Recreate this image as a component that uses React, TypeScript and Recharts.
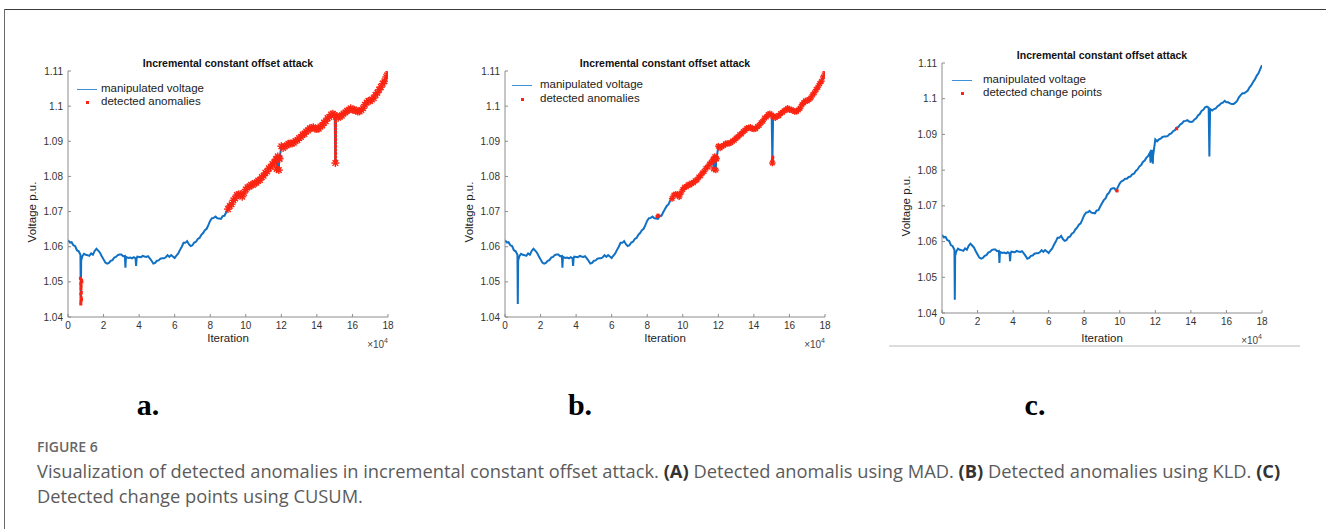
import React from 'react';
import { ComposedChart, Line, Scatter, XAxis, YAxis } from 'recharts';

// Iteration in thousands (axis shows ×10^4), with a few extra samples at the sharp dips
const iterationK = [
  0, 1, 2, 3, 4, 5, 6, 7, 7.2, 7.4, 8, 9,
  10, 11, 12, 13, 14, 15, 16, 17, 18, 19,
  20, 21, 22, 23, 24, 25, 26, 27, 28, 29,
  30, 31, 32, 32.3, 32.6, 33, 34, 35, 36, 37, 38, 38.3, 38.6, 39,
  40, 41, 42, 43, 44, 45, 46, 47, 48, 49,
  50, 51, 52, 53, 54, 55, 56, 57, 58, 59,
  60, 61, 62, 63, 64, 65, 66, 67, 68, 69,
  70, 71, 72, 73, 74, 75, 76, 77, 78, 79,
  80, 81, 82, 83, 84, 85, 86, 87, 88, 89,
  90, 91, 92, 93, 94, 95, 96, 97, 98, 99,
  100, 101, 102, 103, 104, 105, 106, 107, 108, 109,
  110, 111, 112, 113, 114, 115, 116, 117, 117.3, 117.6, 118, 118.6, 118.8, 119,
  120, 121, 122, 123, 124, 125, 126, 127, 128, 129,
  130, 131, 132, 133, 134, 135, 136, 137, 138, 139,
  140, 141, 142, 143, 144, 145, 146, 147, 148, 149,
  150, 150.4, 150.8, 151, 152, 153, 154, 155, 156, 157, 158, 159,
  160, 161, 162, 163, 164, 165, 166, 167, 168, 169,
  170, 171, 172, 173, 174, 175, 176, 177, 178, 179, 180,
];

// Manipulated voltage (p.u.)
const voltage = [
  1.0619, 1.0612, 1.0613, 1.0604, 1.0602, 1.0590, 1.0587, 1.0577, 1.0437, 1.056, 1.0572, 1.0580,
  1.0577, 1.0576, 1.0574, 1.0581, 1.0577, 1.0588, 1.0594, 1.0589, 1.0583, 1.0573,
  1.0564, 1.0555, 1.0552, 1.0554, 1.0560, 1.0562, 1.0569, 1.0571, 1.0576, 1.0578,
  1.0578, 1.0573, 1.0574, 1.054, 1.0571, 1.0570, 1.0568, 1.0569, 1.0567, 1.0570, 1.0567, 1.0545, 1.0567, 1.0572,
  1.0571, 1.0570, 1.0574, 1.0572, 1.0571, 1.0573, 1.0567, 1.0560, 1.0552, 1.0554,
  1.0560, 1.0561, 1.0566, 1.0567, 1.0567, 1.0570, 1.0576, 1.0571, 1.0576, 1.0572,
  1.0568, 1.0575, 1.0581, 1.0591, 1.0600, 1.0611, 1.0611, 1.0616, 1.0607, 1.0602,
  1.0604, 1.0612, 1.0614, 1.0622, 1.0625, 1.0634, 1.0639, 1.0647, 1.0651, 1.0662,
  1.0674, 1.0681, 1.0682, 1.0686, 1.0681, 1.0680, 1.0679, 1.0687, 1.0688, 1.0698,
  1.0707, 1.0716, 1.0721, 1.0732, 1.0737, 1.0747, 1.0749, 1.0749, 1.0742, 1.0753,
  1.0763, 1.0769, 1.0771, 1.0776, 1.0776, 1.0781, 1.0782, 1.0788, 1.0790, 1.0798,
  1.0802, 1.0810, 1.0814, 1.0823, 1.0827, 1.0835, 1.0840, 1.0849, 1.0821, 1.0846, 1.0857, 1.0818, 1.0852, 1.0850,
  1.0886, 1.0881, 1.0886, 1.0888, 1.0893, 1.0894, 1.0894, 1.0896, 1.0901, 1.0903,
  1.0909, 1.0912, 1.0919, 1.0921, 1.0928, 1.0931, 1.0937, 1.0938, 1.0940, 1.0936,
  1.0935, 1.0936, 1.0942, 1.0945, 1.0953, 1.0957, 1.0966, 1.0969, 1.0976, 1.0978,
  1.0975, 1.0838, 1.0970, 1.0971, 1.0967, 1.0971, 1.0973, 1.0979, 1.0982, 1.0987, 1.0989, 1.0994,
  1.0990, 1.0990, 1.0987, 1.0985, 1.0985, 1.0989, 1.0994, 1.1004, 1.1010, 1.1015,
  1.1015, 1.1019, 1.1023, 1.1032, 1.1038, 1.1047, 1.1054, 1.1064, 1.1071, 1.1083, 1.1094,
];

// First iteration (thousands) flagged continuously by each detector
const madStartK = 90;
const kldStartK = 94;

// Extra flagged samples of the MAD detector around the dips
const madExtraX = [7, 7.2, 7.3, 7.2, 7.4, 7.3, 7.2, 7.6, 7.8, 7.5, 7.6, 7.4,
  117.5, 118.5, 118.7,
  150.5, 150.5, 150.5, 150.5, 150.5, 150.5, 150.5, 150.5, 150.5, 150.5, 150.5, 150.5, 150.5, 150.4, 150.6];
const madExtraV = [1.051, 1.0495, 1.048, 1.0465, 1.0455, 1.0445, 1.0437, 1.0505, 1.05, 1.047, 1.045, 1.0488,
  1.0825, 1.0818, 1.0822,
  1.0965, 1.0955, 1.0945, 1.0935, 1.0925, 1.0915, 1.0905, 1.0895, 1.0885, 1.0875, 1.0865, 1.0855, 1.0845, 1.084, 1.0842];

// Extra flagged samples of the KLD detector
const kldExtraX = [85.5, 86, 86.5, 150.4, 150.5, 150.6, 150.4];
const kldExtraV = [1.0686, 1.069, 1.0688, 1.0843, 1.085, 1.0855, 1.0847];

// Change points found by CUSUM
const cusumX = [98.5, 132];
const cusumV = [1.0742, 1.0916];

const xTicks = [0, 20, 40, 60, 80, 100, 120, 140, 160, 180];
const yTicks = [1.04, 1.05, 1.06, 1.07, 1.08, 1.09, 1.1, 1.11];

const chartTitle = 'Incremental constant offset attack';
const lineLegend = 'manipulated voltage';

type Pt = { x: number; v: number };

const series: Pt[] = iterationK.map((x, i) => ({ x, v: voltage[i] }));
const pairs = (xs: number[], vs: number[]): Pt[] => xs.map((x, i) => ({ x, v: vs[i] }));

const madBand: Pt[] = series.filter((p) => p.x >= madStartK);
const madExtra: Pt[] = pairs(madExtraX, madExtraV);
const kldBand: Pt[] = series.filter((p) => p.x >= kldStartK);
const kldExtra: Pt[] = pairs(kldExtraX, kldExtraV);
const cusumPoints: Pt[] = pairs(cusumX, cusumV);

const FONT = '"Liberation Sans", Arial, sans-serif';
const BLUE = '#1070c4';
const RED = '#fb2412';
const AXIS = '#8c8c8c';

const emptyTick = () => <g />;

// asterisk-like marker, as plotted with '*'
const makeStar = (size: number) => (props: any) => {
  const { cx, cy } = props;
  if (cx == null || cy == null) return <g />;
  const r = size / 2;
  const d = r * 0.7;
  return (
    <g stroke={RED} strokeWidth={1.4}>
      <line x1={cx - r} y1={cy} x2={cx + r} y2={cy} />
      <line x1={cx} y1={cy - r} x2={cx} y2={cy + r} />
      <line x1={cx - d} y1={cy - d} x2={cx + d} y2={cy + d} />
      <line x1={cx - d} y1={cy + d} x2={cx + d} y2={cy - d} />
    </g>
  );
};

const makeSquare = (size: number) => (props: any) => {
  const { cx, cy } = props;
  if (cx == null || cy == null) return <g />;
  return <rect x={cx - size / 2} y={cy - size / 2} width={size} height={size} fill={RED} />;
};

type PanelProps = {
  left: number;
  top: number;
  plotH: number;
  band: Pt[];
  extra: Pt[];
  bandShape: (p: any) => React.ReactElement;
  extraShape: (p: any) => React.ReactElement;
  pointLegend: string;
  legendDy: [number, number];
  legendLine: [number, number];
  legendText: number;
  labelGap: number;
};

const PLOT_W = 320;
const M_TOP = 31;
const Y_W = 68;
const X_H = 43;

function Panel(p: PanelProps) {
  const h = M_TOP + p.plotH + X_H;
  const plotLeft = p.left + Y_W;
  const plotTop = p.top + M_TOP;
  const plotBottom = plotTop + p.plotH;
  const cx = plotLeft + PLOT_W / 2;
  const abs: React.CSSProperties = { position: 'absolute', fontFamily: FONT, whiteSpace: 'nowrap', lineHeight: 1 };
  return (
    <>
      <div style={{ position: 'absolute', left: p.left, top: p.top }}>
        <ComposedChart width={Y_W + PLOT_W + 32} height={h} margin={{ top: M_TOP, right: 32, bottom: 0, left: 0 }}>
          <XAxis
            xAxisId="b"
            dataKey="x"
            type="number"
            domain={[0, 180]}
            ticks={xTicks}
            allowDataOverflow
            height={X_H}
            stroke={AXIS}
            tickSize={-3}
            tickMargin={8}
            tickFormatter={(v: number) => String(v / 10)}
            tick={{ fill: '#333', fontSize: 10, fontFamily: FONT }}
          />
          <XAxis
            xAxisId="t"
            orientation="top"
            dataKey="x"
            type="number"
            domain={[0, 180]}
            ticks={xTicks}
            height={0}
            stroke={AXIS}
            tickSize={-3}
            tick={emptyTick}
          />
          <YAxis
            yAxisId="l"
            type="number"
            domain={[1.04, 1.11]}
            ticks={yTicks}
            allowDataOverflow
            width={Y_W}
            stroke={AXIS}
            tickSize={-3}
            tickMargin={8}
            tickFormatter={(v: number) => String(Number(v.toFixed(2)))}
            tick={{ fill: '#333', fontSize: 10, fontFamily: FONT }}
          />
          <YAxis
            yAxisId="r"
            orientation="right"
            type="number"
            domain={[1.04, 1.11]}
            ticks={yTicks}
            width={0}
            stroke={AXIS}
            tickSize={-3}
            tick={emptyTick}
          />
          <Line
            data={series}
            dataKey="v"
            xAxisId="b"
            yAxisId="l"
            type="linear"
            stroke={BLUE}
            strokeWidth={2}
            dot={false}
            activeDot={false}
            isAnimationActive={false}
          />
          <Scatter data={p.band} dataKey="v" xAxisId="b" yAxisId="l" shape={p.bandShape} isAnimationActive={false} />
          <Scatter data={p.extra} dataKey="v" xAxisId="b" yAxisId="l" shape={p.extraShape} isAnimationActive={false} />
        </ComposedChart>
      </div>
      {/* title */}
      <div style={{ ...abs, left: cx, top: plotTop - 8, transform: 'translate(-50%, -50%)', fontSize: 10.5, fontWeight: 700, color: '#111' }}>
        {chartTitle}
      </div>
      {/* legend */}
      <div style={{ position: 'absolute', left: plotLeft + p.legendLine[0], top: plotTop + p.legendDy[0], width: p.legendLine[1] - p.legendLine[0], height: 0, borderTop: '1.2px solid #3d8fd8' }} />
      <div style={{ ...abs, left: plotLeft + p.legendText, top: plotTop + p.legendDy[0], transform: 'translateY(-50%)', fontSize: 11.5, color: '#222' }}>
        {lineLegend}
      </div>
      <div style={{ position: 'absolute', left: plotLeft + (p.legendLine[0] + p.legendLine[1]) / 2 - 1.5, top: plotTop + p.legendDy[1] - 1.5, width: 3, height: 3, background: RED }} />
      <div style={{ ...abs, left: plotLeft + p.legendText, top: plotTop + p.legendDy[1], transform: 'translateY(-50%)', fontSize: 11.5, color: '#222' }}>
        {p.pointLegend}
      </div>
      {/* axis labels */}
      <div style={{ ...abs, left: cx, top: plotBottom + p.labelGap, transform: 'translate(-50%, -50%)', fontSize: 11.5, color: '#222' }}>
        Iteration
      </div>
      <div style={{ ...abs, left: plotLeft + PLOT_W, top: plotBottom + 28, transform: 'translate(-100%, -50%)', fontSize: 10, color: '#444' }}>
        ×10<sup style={{ fontSize: 7, verticalAlign: 'top', position: 'relative', top: -3 }}>4</sup>
      </div>
      <div style={{ ...abs, left: plotLeft - 35, top: plotTop + p.plotH / 2 + 18, transform: 'translate(-50%, -50%) rotate(-90deg)', fontSize: 11.5, color: '#222' }}>
        Voltage p.u.
      </div>
    </>
  );
}

const panelLetters = ['a.', 'b.', 'c.'];
const letterX = [148, 580, 1035];

export default function App() {
  const capBase: React.CSSProperties = { position: 'absolute', left: 37, fontFamily: '"Open Sans", "Noto Sans", sans-serif', color: '#5b5b5b', whiteSpace: 'nowrap', lineHeight: 1 };
  const bold: React.CSSProperties = { fontWeight: 700, color: '#333' };
  return (
    <div style={{ position: 'absolute', left: 0, top: 0, width: 1326, height: 529, background: '#fff', overflow: 'hidden' }}>
      {/* frame */}
      <div style={{ position: 'absolute', left: 4, top: 9, width: 1322, height: 0, borderTop: '1.5px solid #3a3a3a' }} />
      <div style={{ position: 'absolute', left: 4, top: 9, width: 0, height: 520, borderLeft: '1.5px solid #6a6a6a' }} />

      <Panel left={0} top={40} plotH={246} band={madBand} extra={madExtra} bandShape={makeStar(8)} extraShape={makeSquare(3)}
        pointLegend="detected anomalies" legendDy={[18, 31]} legendLine={[9, 29]} legendText={33} labelGap={22} />
      <Panel left={437} top={40} plotH={246} band={kldBand} extra={kldExtra} bandShape={makeStar(6.5)} extraShape={makeSquare(3)}
        pointLegend="detected anomalies" legendDy={[14, 28]} legendLine={[7, 27]} legendText={35} labelGap={22} />
      <Panel left={874} top={32} plotH={250} band={cusumPoints} extra={[]} bandShape={makeSquare(3)} extraShape={makeSquare(3)}
        pointLegend="detected change points" legendDy={[17, 30]} legendLine={[10, 30]} legendText={41} labelGap={26} />

      <div style={{ position: 'absolute', left: 889, top: 345, width: 411, height: 0, borderTop: '2px solid #dcdcdc' }} />

      {panelLetters.map((t, i) => (
        <div key={t} style={{ position: 'absolute', left: letterX[i], top: 405, transform: 'translate(-50%, -50%)', fontFamily: '"Liberation Serif", "Times New Roman", serif', fontWeight: 700, fontSize: 30, lineHeight: 1, color: '#000' }}>
          {t}
        </div>
      ))}

      <div style={{ ...capBase, top: 447, transform: 'translateY(-50%)', fontSize: 14, fontWeight: 600, color: '#666' }}>FIGURE 6</div>
      <div style={{ ...capBase, top: 471, transform: 'translateY(-50%)', fontSize: 18.3 }}>
        Visualization of detected anomalies in incremental constant offset attack. <span style={bold}>(A)</span> Detected anomalis using MAD. <span style={bold}>(B)</span> Detected anomalies using KLD. <span style={bold}>(C)</span>
      </div>
      <div style={{ ...capBase, top: 496, transform: 'translateY(-50%)', fontSize: 18.3 }}>
        Detected change points using CUSUM.
      </div>
    </div>
  );
}
